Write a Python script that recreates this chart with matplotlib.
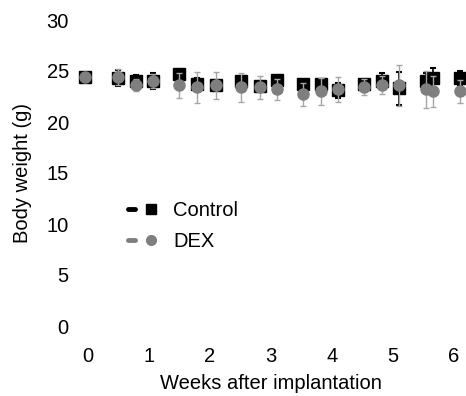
import numpy as np
import matplotlib
matplotlib.use("Agg")
import matplotlib.pyplot as plt
from matplotlib.lines import Line2D
from matplotlib.legend_handler import HandlerTuple

plt.rcParams['font.family'] = ['Liberation Sans', 'DejaVu Sans']

# time points (weeks) and body weights (g)
weeks = [-0.05, 0.49, 0.79, 1.07, 1.49, 1.79, 2.10, 2.50, 2.82, 3.10,
         3.52, 3.82, 4.10, 4.52, 4.82, 5.10, 5.54, 5.66, 6.10]
ctrl_mean = [24.4, 24.3, 24.0, 24.0, 24.7, 23.7, 23.6, 24.0, 23.5, 24.1,
             23.7, 23.7, 23.1, 23.7, 24.0, 23.3, 24.0, 24.3, 24.3]
ctrl_err = [0.3, 0.8, 0.6, 0.8, 0.2, 0.6, 0.5, 0.4, 0.5, 0.4,
            0.4, 0.5, 0.7, 0.4, 0.8, 1.6, 0.8, 1.0, 0.7]
dex_mean = [24.4, 24.4, 23.6, 24.0, 23.6, 23.4, 23.6, 23.4, 23.4, 23.2,
            22.7, 23.0, 23.2, 23.4, 23.6, 23.6, 23.2, 23.0, 23.0]
dex_err = [0.4, 0.8, 0.6, 0.7, 1.2, 1.5, 1.3, 1.4, 1.1, 1.0,
           1.1, 1.3, 1.2, 0.8, 0.9, 2.0, 1.8, 1.5, 1.1]

fs = 14.5
fig = plt.figure(figsize=(4.66, 3.96), dpi=100)
ax = fig.add_axes([75.8 / 466, 59.8 / 396, 390.4 / 466, 326.4 / 396])

ax.errorbar(weeks, ctrl_mean, yerr=ctrl_err, fmt='s', color='black',
            ms=8.5, ecolor='black', elinewidth=1.2, capsize=2.5,
            capthick=1.5, zorder=2)
ax.errorbar(weeks, dex_mean, yerr=dex_err, fmt='o', color='#7f7f7f',
            ms=8, ecolor='#a6a6a6', elinewidth=1, capsize=2.5, zorder=3)

ax.set_xlim(-0.2, 6.2)
ax.set_ylim(-1, 31)
ax.set_xticks(range(0, 7))
ax.set_yticks(range(0, 31, 5))
for s in ax.spines.values():
    s.set_visible(False)
ax.tick_params(length=0, labelsize=fs)
ax.tick_params(axis='x', pad=8)
ax.tick_params(axis='y', pad=5)

ax.set_xlabel('Weeks after implantation', fontsize=fs)
ax.set_ylabel('Body weight (g)', fontsize=fs)
ax.xaxis.set_label_coords(0.5, -0.115)
ax.yaxis.set_label_coords(-0.112, 0.5)

ctrl_line = Line2D([], [], color='black', lw=3.5, solid_capstyle='round')
ctrl_mark = Line2D([], [], color='black', marker='s', ms=7, linestyle='none')
dex_line = Line2D([], [], color='#7f7f7f', lw=3.5, solid_capstyle='round')
dex_mark = Line2D([], [], color='#7f7f7f', marker='o', ms=7, linestyle='none')
ax.legend([(ctrl_line, ctrl_mark), (dex_line, dex_mark)], ['Control', 'DEX'],
          handler_map={tuple: HandlerTuple(ndivide=2, pad=0.6)},
          loc='center left', bbox_to_anchor=(0.134, 0.337), frameon=False,
          fontsize=fs, handlelength=1.3, handletextpad=0.95, labelspacing=0.6,
          borderaxespad=0, borderpad=0)

fig.savefig('out.png', dpi=100)
